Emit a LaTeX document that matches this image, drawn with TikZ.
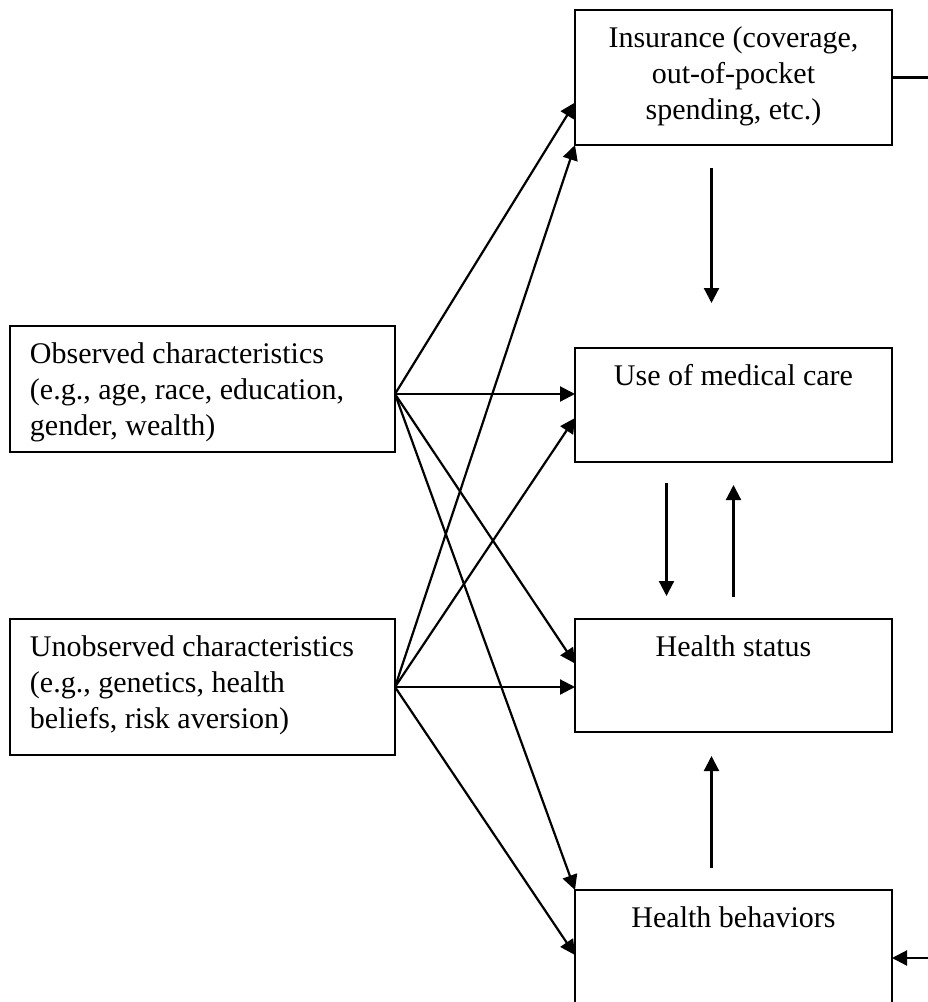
\documentclass[tikz,border=0pt]{standalone}
\usepackage{fontspec}
\setmainfont{Liberation Serif}
\usetikzlibrary{positioning}
\usetikzlibrary{arrows.meta}
\newcommand*{\TopText}[4]{\parbox[c][#2][t]{#1}{#3\rule{0pt}{37pt}#4}}

\begin{document}
\begin{tikzpicture}[x=1pt, y=-1pt,
    box/.style={draw, line width=2.2pt, inner xsep=10pt, inner ysep=0pt,
        outer sep=0pt, anchor=north west,
        font={\fontsize{30pt}{36pt}\selectfont}},
    arr/.style={-{Triangle[length=15pt,width=15pt]}, line width=2.2pt}]
\path[use as bounding box, clip] (0,0) rectangle (928,1002);

 % Outcome boxes
 \node[box] (ins) at (575,10)
    {\TopText{297pt}{135pt}{\centering}{Insurance (coverage,\\ out-of-pocket\\ spending, etc.)}};
 \node[box, below=203pt of ins] (use)
    {\TopText{297pt}{114pt}{\centering}{Use of medical care}};
 \node[box, below=157pt of use] (hst)
    {\TopText{297pt}{113pt}{\centering}{Health status}};
 \node[box, below=158pt of hst] (hbe)
    {\TopText{297pt}{140pt}{\centering}{Health behaviors}};

 % Characteristics
\node [box, inner xsep=20pt] (obs) at (10,326)
    {\TopText{345pt}{126pt}{\raggedright}{Observed characteristics\\ (e.g., age, race, education,\\ gender, wealth)}};
\node [box, inner xsep=20pt, below=167pt of obs] (uno)
    {\TopText{345pt}{136pt}{\raggedright}{Unobserved characteristics\\ (e.g., genetics, health\\ beliefs, risk aversion)}};

\coordinate (obsout) at ([yshift=-5pt]obs.east);
\coordinate (edge) at (928,0);
\coordinate (hbein) at ([yshift=-68pt]hbe.north east);

% from observed
\draw[arr] (obsout) -- ([yshift=-25pt]ins.west);
\draw[arr] (obsout) -- (obsout -| use.west);
\draw[arr] (obsout) -- ([yshift=12pt]hst.west);
\draw[arr] (obsout) -- (hbe.north west);

% from unobserved
\draw[arr] (uno.east) -- (ins.south west);
\draw[arr] (uno.east) -- ([yshift=-13pt]use.west);
\draw[arr] (uno.east) -- (uno.east -| hst.west);
\draw[arr] (uno.east) -- ([yshift=-65pt]hbe.north west);

% between outcomes
\draw[arr] ([shift={(-22pt,-23pt)}]ins.south) -- ([shift={(-22pt,45pt)}]use.north);
\draw[arr] ([shift={(-67pt,-21pt)}]use.south) -- ([shift={(-67pt,23pt)}]hst.north);
\draw[arr] ([yshift=22pt]hst.north) -- ([yshift=-23pt]use.south);
\draw[arr] ([shift={(-22pt,22pt)}]hbe.north) -- ([shift={(-22pt,-24pt)}]hst.south);

% loose ends at the right
\draw[line width=2.2pt] (ins.east) -- (ins.east -| edge);
\draw[arr] (hbein -| edge) -- (hbein);
\end{tikzpicture}
\end{document}
